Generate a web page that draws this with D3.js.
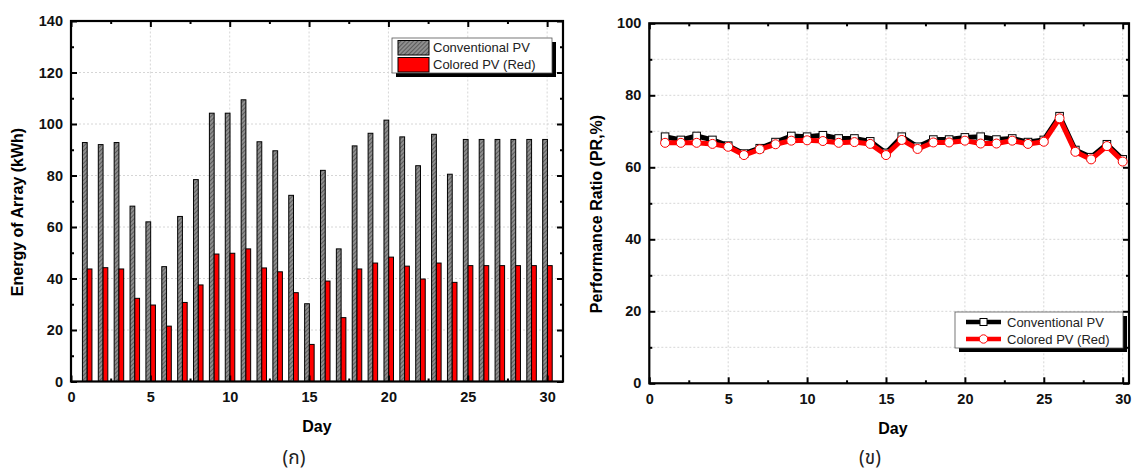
<!DOCTYPE html>
<html><head><meta charset="utf-8">
<script src="https://cdn.jsdelivr.net/npm/d3@7"></script>
<style>
html,body{margin:0;padding:0;background:#fff;}
svg{display:block;font-family:"Liberation Sans",Arial,sans-serif;}
</style></head>
<body>
<svg id="chart" width="1132" height="475"></svg>
<script>
const days = d3.range(1, 31);
const energyConventional = [92.8, 92, 92.8, 68.1, 62, 44.6, 64.1, 78.4, 104.2, 104.2, 109.4, 93.1, 89.6, 72.3, 30.2, 82, 51.5, 91.5, 96.4, 101.5, 95, 83.8, 96, 80.5, 94, 94, 94, 94, 94, 94];
const energyColored = [43.7, 44.2, 43.7, 32.3, 29.7, 21.5, 30.7, 37.5, 49.5, 49.8, 51.5, 44.1, 42.6, 34.5, 14.4, 39, 24.8, 43.7, 46, 48.3, 44.8, 39.8, 46, 38.5, 45, 45, 45, 45, 45, 45];
const prConventional = [68.5, 67.6, 68.7, 67.6, 66, 63.8, 65.3, 67, 68.7, 68.5, 68.9, 68, 68, 67.2, 64, 68.5, 65.7, 67.7, 67.7, 68.3, 68.5, 67.7, 68, 67, 67.6, 74.2, 64.8, 62.8, 66.4, 62.2];
const prColored = [66.8, 66.8, 66.8, 66.5, 65.7, 63.4, 65, 66.4, 67.4, 67.5, 67.3, 66.8, 67, 66.5, 63.4, 67.6, 65.1, 66.9, 66.9, 67.4, 66.6, 66.6, 67.4, 66.5, 67.1, 73.6, 64.3, 62.2, 65.9, 61.6];
const seriesNames = ["Conventional PV", "Colored PV (Red)"];
const xTicks = [0, 5, 10, 15, 20, 25, 30];
const yTicksEnergy = [0, 20, 40, 60, 80, 100, 120, 140];
const yTicksPR = [0, 20, 40, 60, 80, 100];
const labels = {xTitle: "Day", yEnergy: "Energy of Array (kWh)", yPR: "Performance Ratio (PR,%)", capA: "(ก)", capB: "(ข)"};

const svg = d3.select("#chart");
const defs = svg.append("defs");
const pat = defs.append("pattern").attr("id", "hatch").attr("patternUnits", "userSpaceOnUse")
  .attr("width", 3).attr("height", 3).attr("patternTransform", "rotate(45)");
pat.append("rect").attr("width", 3).attr("height", 3).attr("fill", "#8e8e8e");
pat.append("line").attr("x1", 0).attr("y1", 0).attr("x2", 0).attr("y2", 3).attr("stroke", "#3a3a3a").attr("stroke-width", 1.2);

function frame(g, x, y, yGrid) {
  const [x0, x1] = x.range(), [y0, y1] = y.range();
  g.append("g").selectAll("line").data(xTicks.filter(d => d > 0)).join("line")
    .attr("x1", d => x(d)).attr("x2", d => x(d)).attr("y1", y0).attr("y2", y1)
    .attr("stroke", "#d6d6d6").attr("stroke-dasharray", "2,2").attr("stroke-width", 1);
  g.append("g").selectAll("line").data(yGrid).join("line")
    .attr("x1", x0).attr("x2", x1).attr("y1", d => y(d)).attr("y2", d => y(d))
    .attr("stroke", "#d6d6d6").attr("stroke-dasharray", "2,2").attr("stroke-width", 1);
}
function axes(g, x, y, xMinor, yMinor, yTicks) {
  const [x0, x1] = x.range(), [y0, y1] = y.range();
  const style = sel => { sel.select(".domain").remove(); sel.selectAll(".tick line").attr("stroke", "#000").attr("stroke-width", 2); };
  const lab = sel => sel.selectAll("text").attr("font-size", 14.5).attr("font-weight", "bold").attr("fill", "#111");
  g.append("g").attr("transform", `translate(0,${y0})`).call(d3.axisBottom(x).tickValues(xTicks).tickFormat(d3.format("d")).tickSize(-6).tickPadding(10)).call(style).call(lab);
  g.append("g").attr("transform", `translate(0,${y0})`).call(d3.axisBottom(x).tickValues(xMinor).tickFormat("").tickSize(-3)).call(style);
  g.append("g").attr("transform", `translate(0,${y1})`).call(d3.axisTop(x).tickValues(xTicks).tickFormat("").tickSize(-6)).call(style);
  g.append("g").attr("transform", `translate(0,${y1})`).call(d3.axisTop(x).tickValues(xMinor).tickFormat("").tickSize(-3)).call(style);
  g.append("g").attr("transform", `translate(${x0},0)`).call(d3.axisLeft(y).tickValues(yTicks).tickFormat(d3.format("d")).tickSize(-6).tickPadding(8)).call(style).call(lab);
  g.append("g").attr("transform", `translate(${x0},0)`).call(d3.axisLeft(y).tickValues(yMinor).tickFormat("").tickSize(-3)).call(style);
  g.append("g").attr("transform", `translate(${x1},0)`).call(d3.axisRight(y).tickValues(yTicks).tickFormat("").tickSize(-6)).call(style);
  g.append("g").attr("transform", `translate(${x1},0)`).call(d3.axisRight(y).tickValues(yMinor).tickFormat("").tickSize(-3)).call(style);
  g.append("rect").attr("x", x0).attr("y", y1).attr("width", x1 - x0).attr("height", y0 - y1)
    .attr("fill", "none").attr("stroke", "#000").attr("stroke-width", 2.2);
}
const xMinor = [2.5, 7.5, 12.5, 17.5, 22.5, 27.5];

// ---------- Left chart ----------
const xL = d3.scaleLinear().domain([0, 31]).range([71, 563]);
const yL = d3.scaleLinear().domain([0, 140]).range([381.5, 21]);
const gL = svg.append("g");
frame(gL, xL, yL, yTicksEnergy.filter(d => d > 0 && d < 140));
const bw = xL(0.3) - xL(0);
gL.append("g").selectAll("rect").data(days).join("rect")
  .attr("x", (d, i) => xL(d - 0.28)).attr("width", bw)
  .attr("y", (d, i) => yL(energyConventional[i])).attr("height", (d, i) => yL(0) - yL(energyConventional[i]))
  .attr("fill", "url(#hatch)").attr("stroke", "#000").attr("stroke-width", 1);
gL.append("g").selectAll("rect").data(days).join("rect")
  .attr("x", (d, i) => xL(d + 0.02)).attr("width", bw)
  .attr("y", (d, i) => yL(energyColored[i])).attr("height", (d, i) => yL(0) - yL(energyColored[i]))
  .attr("fill", "#ff0000").attr("stroke", "#000").attr("stroke-width", 1);
axes(gL, xL, yL, xMinor, [10, 30, 50, 70, 90, 110, 130], yTicksEnergy);
const lg = gL.append("g");
lg.append("rect").attr("x", 396).attr("y", 42).attr("width", 160).attr("height", 35).attr("fill", "#000");
lg.append("rect").attr("x", 392).attr("y", 38).attr("width", 160).attr("height", 35).attr("fill", "#fff").attr("stroke", "#555").attr("stroke-width", 0.8);
lg.append("rect").attr("x", 398).attr("y", 40.5).attr("width", 31).attr("height", 14.5).attr("fill", "url(#hatch)").attr("stroke", "#000").attr("stroke-width", 1);
lg.append("rect").attr("x", 398).attr("y", 57.5).attr("width", 31).attr("height", 14.5).attr("fill", "#ff0000").attr("stroke", "#000").attr("stroke-width", 1);
lg.selectAll("text").data(seriesNames).join("text").attr("x", 433).attr("y", (d, i) => 52 + i * 17)
  .attr("font-size", 13).attr("fill", "#222").text(d => d);
svg.append("text").attr("x", 317).attr("y", 432).attr("text-anchor", "middle").attr("font-size", 16).attr("font-weight", "bold").text(labels.xTitle);
svg.append("text").attr("transform", "translate(23,212) rotate(-90)").attr("text-anchor", "middle").attr("font-size", 16).attr("font-weight", "bold").text(labels.yEnergy);

// ---------- Right chart ----------
const xR = d3.scaleLinear().domain([0, 30.4]).range([649.3, 1129]);
const yR = d3.scaleLinear().domain([0, 100]).range([383.3, 23.3]);
const gR = svg.append("g");
frame(gR, xR, yR, [10, 20, 30, 40, 50, 60, 70, 80, 90]);
const line = vals => d3.line().x((d, i) => xR(days[i])).y(d => yR(d))(vals);
gR.append("path").attr("d", line(prConventional)).attr("fill", "none").attr("stroke", "#000").attr("stroke-width", 5).attr("stroke-linejoin", "round");
gR.append("g").selectAll("rect").data(prConventional).join("rect")
  .attr("x", (d, i) => xR(days[i]) - 3.8).attr("y", d => yR(d) - 3.8).attr("width", 7.6).attr("height", 7.6)
  .attr("fill", "#fff").attr("stroke", "#000").attr("stroke-width", 1);
gR.append("path").attr("d", line(prColored)).attr("fill", "none").attr("stroke", "#ff0000").attr("stroke-width", 5).attr("stroke-linejoin", "round");
gR.append("g").selectAll("circle").data(prColored).join("circle")
  .attr("cx", (d, i) => xR(days[i])).attr("cy", d => yR(d)).attr("r", 4.5)
  .attr("fill", "#fff").attr("stroke", "#ff0000").attr("stroke-width", 1);
axes(gR, xR, yR, xMinor, [10, 30, 50, 70, 90], yTicksPR);
const lr = gR.append("g");
lr.append("rect").attr("x", 959).attr("y", 316).attr("width", 168).attr("height", 36).attr("fill", "#000");
lr.append("rect").attr("x", 955).attr("y", 312).attr("width", 168).attr("height", 36).attr("fill", "#fff").attr("stroke", "#555").attr("stroke-width", 0.8);
lr.append("line").attr("x1", 966).attr("x2", 1001).attr("y1", 322).attr("y2", 322).attr("stroke", "#000").attr("stroke-width", 4.5);
lr.append("rect").attr("x", 980).attr("y", 318.5).attr("width", 7).attr("height", 7).attr("fill", "#fff").attr("stroke", "#000");
lr.append("line").attr("x1", 966).attr("x2", 1001).attr("y1", 339).attr("y2", 339).attr("stroke", "#ff0000").attr("stroke-width", 4.5);
lr.append("circle").attr("cx", 983.5).attr("cy", 339).attr("r", 4.2).attr("fill", "#fff").attr("stroke", "#ff0000");
lr.selectAll("text").data(seriesNames).join("text").attr("x", 1007).attr("y", (d, i) => 326.5 + i * 17)
  .attr("font-size", 13).attr("fill", "#222").text(d => d);
svg.append("text").attr("x", 893).attr("y", 434).attr("text-anchor", "middle").attr("font-size", 16).attr("font-weight", "bold").text(labels.xTitle);
svg.append("text").attr("transform", "translate(602,214) rotate(-90)").attr("text-anchor", "middle").attr("font-size", 16).attr("font-weight", "bold").text(labels.yPR);

// captions
const capFont = "'Noto Sans Thai','Noto Sans','DejaVu Sans',sans-serif";
svg.append("text").attr("x", 294).attr("y", 464).attr("text-anchor", "middle").attr("font-size", 19).attr("font-family", capFont).attr("fill", "#222").text(labels.capA);
svg.append("text").attr("x", 870).attr("y", 464).attr("text-anchor", "middle").attr("font-size", 19).attr("font-family", capFont).attr("fill", "#222").text(labels.capB);
</script>
</body></html>
